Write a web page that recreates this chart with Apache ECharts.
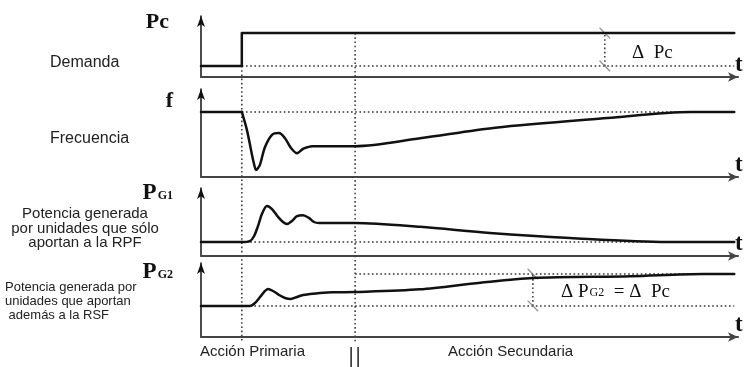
<!DOCTYPE html>
<html><head><meta charset="utf-8">
<script src="https://cdn.jsdelivr.net/npm/echarts@6/dist/echarts.min.js"></script>
<style>html,body{margin:0;padding:0;background:#fff}#c{width:747px;height:367px}</style>
</head><body><div id="c"></div>
<script>
// ---- event times ----
const tStep = 7.6;
const tSecondary = 28.7;
const tEnd = 99.3;

// ---- Panel 1: Demanda (Pc) ----
const demandT = [0, 7.6, 7.6, 99.3];
const demandV = [1.8, 1.8, 7.2, 7.2];
const demandBase = 1.8;
const demandTop = 7.2;
const deltaPcT = 75.2;

// ---- Panel 2: Frecuencia (f) ----
const freqT = [0, 7.6, 8.57, 9.5, 9.87, 10.24, 10.6, 10.99, 11.92, 13.22, 14.53, 15.64, 16.76, 17.88, 18.99, 19.93, 20.67, 28.7, 40.8, 54.8, 75.7, 91.1, 99.3];
const freqV = [7.4, 7.4, 5.3, 2.5, 1.5, 0.8, 1.0, 1.4, 3.4, 4.8, 5.0, 4.4, 3.3, 2.7, 3.2, 3.4, 3.5, 3.5, 4.4, 5.6, 6.7, 7.4, 7.4];
const freqNominal = 7.4;

// ---- Panel 3: PG1 ----
const pg1T = [0, 7.6, 9.12, 9.87, 10.61, 11.36, 12.29, 13.22, 14.34, 15.27, 16.01, 16.95, 17.88, 19.0, 20.1, 21.04, 21.97, 28.7, 40.8, 53.8, 68.7, 86.8, 99.3];
const pg1V = [2.06, 2.06, 2.2, 2.9, 4.4, 6.2, 7.35, 6.9, 5.75, 5.0, 4.7, 5.15, 5.85, 6.0, 5.6, 5.0, 4.85, 4.85, 4.3, 3.4, 2.65, 2.06, 2.06];
const pg1Base = 2.06;

// ---- Panel 4: PG2 ----
const pg2T = [0, 7.6, 9.12, 10.06, 10.99, 11.73, 12.48, 13.41, 14.53, 15.64, 16.76, 17.88, 18.99, 20.3, 22.16, 24.58, 28.7, 40.8, 52.0, 61.8, 80.0, 93.5, 99.3];
const pg2V = [4.2, 4.2, 4.2, 4.6, 5.4, 6.08, 6.5, 6.22, 5.68, 5.27, 5.14, 5.41, 5.68, 5.81, 5.95, 6.05, 6.08, 6.45, 7.34, 7.97, 8.2, 8.5, 8.5];
const pg2Base = 4.2;
const pg2Final = 8.5;
const deltaPg2T = 61.8;

// ---- texts ----
const panelSymbols = ['Pc', 'f', '{p|P}{s|G1}', '{p|P}{s|G2}'];
const panelNames = ['Demanda', 'Frecuencia', 'Potencia generada\npor unidades que sólo\naportan a la RPF', 'Potencia generada por\nunidades que aportan\n además a la RSF'];
const phaseLabels = ['Acción Primaria', 'Acción Secundaria'];
const deltaLabels = ['Δ  Pc', '{b|Δ P}{s|G2}{b|  = Δ  Pc}'];

const zip = (a, b) => a.map((x, i) => [x, b[i]]);
const grids = [
  {left: 201, top: 16, width: 537, height: 61},
  {left: 201, top: 89, width: 537, height: 88},
  {left: 201, top: 188, width: 537, height: 68},
  {left: 201, top: 263, width: 537, height: 74}
];
const INK = '#111';
const DOT = [1.6, 2.6];

const xAxes = grids.map((g, i) => ({
  gridIndex: i, type: 'value', min: 0, max: 100,
  axisLine: {show: true, symbol: ['none', 'arrow'], symbolSize: [7, 10], lineStyle: {color: '#444', width: 2}},
  axisTick: {show: false}, axisLabel: {show: false}, splitLine: {show: false},
  name: 't', nameLocation: 'end', nameGap: -3,
  nameTextStyle: {fontFamily: 'Liberation Serif', fontWeight: 'bold', fontSize: 23, color: INK, verticalAlign: 'bottom', padding: [0, 0, 0, 0]}
}));
const yAxes = grids.map((g, i) => ({
  gridIndex: i, type: 'value', min: 0, max: 10,
  axisLine: {show: true, onZero: false, symbol: ['none', 'arrow'], symbolSize: [6, 11], lineStyle: {color: INK, width: 1.5}},
  axisTick: {show: false}, axisLabel: {show: false}, splitLine: {show: false}
}));

function splitAt(T, V, t0) {
  const k = T.indexOf(t0);
  return [zip(T.slice(0, k + 1), V.slice(0, k + 1)), zip(T.slice(k), V.slice(k))];
}
function mainLine(i, data, smooth) {
  return {type: 'line', xAxisIndex: i, yAxisIndex: i, data, smooth, showSymbol: false, silent: true, z: 5,
    lineStyle: {color: INK, width: 2.5, join: 'round', cap: 'round'}};
}
function dotted(i, data) {
  return {type: 'line', xAxisIndex: i, yAxisIndex: i, data, showSymbol: false, silent: true, z: 2,
    lineStyle: {color: '#333', width: 1.5, type: DOT}};
}
function ticks(i, data) {
  return {type: 'scatter', xAxisIndex: i, yAxisIndex: i, data, symbol: 'rect', symbolSize: [1.3, 15], symbolRotate: 45,
    itemStyle: {color: '#777'}, silent: true, z: 3};
}

const series = [];
// panel 1
series.push(mainLine(0, zip(demandT, demandV), false));
series.push(dotted(0, [[tStep, demandBase], [tEnd, demandBase]]));
series.push(dotted(0, [[deltaPcT, demandBase], [deltaPcT, demandTop]]));
series.push(ticks(0, [[deltaPcT, demandTop], [deltaPcT, demandBase]]));
// panel 2
const f = splitAt(freqT, freqV, tStep);
series.push(mainLine(1, f[0], false));
series.push(mainLine(1, f[1], 0.3));
series.push(dotted(1, [[tStep, freqNominal], [tEnd, freqNominal]]));
// panel 3
const p1 = splitAt(pg1T, pg1V, tStep);
series.push(mainLine(2, p1[0], false));
series.push(mainLine(2, p1[1], 0.3));
series.push(dotted(2, [[tStep, pg1Base], [tEnd, pg1Base]]));
// panel 4
const p2 = splitAt(pg2T, pg2V, tStep);
series.push(mainLine(3, p2[0], false));
series.push(mainLine(3, p2[1], 0.3));
series.push(dotted(3, [[tStep, pg2Base], [tEnd, pg2Base]]));
series.push(dotted(3, [[tSecondary, pg2Final], [tEnd, pg2Final]]));
series.push(dotted(3, [[deltaPg2T, pg2Base], [deltaPg2T, pg2Final]]));
series.push(ticks(3, [[deltaPg2T, pg2Final], [deltaPg2T, pg2Base]]));

const chart = echarts.init(document.getElementById('c'), null, {renderer: 'canvas'});
chart.setOption({animation: false, backgroundColor: '#fff', grid: grids, xAxis: xAxes, yAxis: yAxes, series});

const px = (g, pt) => chart.convertToPixel({gridIndex: g}, pt);
const serifBold = '"Liberation Serif", "DejaVu Serif", serif';
const sans = '"Liberation Sans", Arial, sans-serif';

const aStep0 = px(0, [tStep, demandBase]);
const aStep1 = px(3, [tStep, 0]);
const aSec0 = px(0, [tSecondary, demandTop]);
const aSec1 = px(3, [tSecondary, 0]);
const bottomY = aStep1[1] + 6;
const dashStyle = {stroke: '#333', lineWidth: 1.5, lineDash: DOT};

const richSym = {
  p: {fontFamily: serifBold, fontWeight: 'bold', fontSize: 23, color: INK, verticalAlign: 'bottom'},
  s: {fontFamily: serifBold, fontWeight: 'bold', fontSize: 12, color: INK, verticalAlign: 'bottom', padding: [0, 0, 3, 1]}
};
const symPos = [[169, 22], [173, 101], [173, 193], [173, 272]];

const graphic = [
  {type: 'line', silent: true, shape: {x1: aStep0[0], y1: aStep0[1], x2: aStep1[0], y2: bottomY}, style: dashStyle},
  {type: 'line', silent: true, shape: {x1: aSec0[0], y1: aSec0[1], x2: aSec1[0], y2: bottomY}, style: dashStyle},
  {type: 'line', silent: true, shape: {x1: aSec1[0] - 4, y1: 347, x2: aSec1[0] - 4, y2: 367}, style: {stroke: '#222', lineWidth: 1.5}},
  {type: 'line', silent: true, shape: {x1: aSec1[0] + 3, y1: 347, x2: aSec1[0] + 3, y2: 367}, style: {stroke: '#222', lineWidth: 1.5}}
];
panelSymbols.forEach((s, i) => {
  graphic.push({type: 'text', silent: true, x: symPos[i][0], y: symPos[i][1],
    style: {text: s, rich: richSym, font: 'bold 22px ' + serifBold, fill: INK, align: 'right', verticalAlign: 'middle'}});
});
graphic.push({type: 'text', silent: true, x: 50, y: 63, style: {text: panelNames[0], font: '16px ' + sans, fill: '#222', align: 'left', verticalAlign: 'middle'}});
graphic.push({type: 'text', silent: true, x: 50, y: 139, style: {text: panelNames[1], font: '16px ' + sans, fill: '#222', align: 'left', verticalAlign: 'middle'}});
graphic.push({type: 'text', silent: true, x: 85, y: 228.5, style: {text: panelNames[2], font: '15px ' + sans, lineHeight: 14.5, fill: '#222', align: 'center', verticalAlign: 'middle'}});
graphic.push({type: 'text', silent: true, x: 5, y: 301, style: {text: panelNames[3], font: '13px ' + sans, lineHeight: 14, fill: '#222', align: 'left', verticalAlign: 'middle'}});
graphic.push({type: 'text', silent: true, x: 200, y: 352, style: {text: phaseLabels[0], font: '15px ' + sans, fill: '#222', align: 'left', verticalAlign: 'middle'}});
graphic.push({type: 'text', silent: true, x: 448, y: 352, style: {text: phaseLabels[1], font: '15px ' + sans, fill: '#222', align: 'left', verticalAlign: 'middle'}});
graphic.push({type: 'text', silent: true, x: 632, y: 53, style: {text: deltaLabels[0], font: '19px ' + serifBold, fill: INK, align: 'left', verticalAlign: 'middle'}});
graphic.push({type: 'text', silent: true, x: 561, y: 292, style: {text: deltaLabels[1], fill: INK, align: 'left', verticalAlign: 'middle',
  rich: {b: {fontFamily: serifBold, fontSize: 19, color: INK, verticalAlign: 'bottom'}, s: {fontFamily: serifBold, fontSize: 12, color: INK, verticalAlign: 'bottom', padding: [0, 0, 3, 1]}}}});

chart.setOption({graphic});
</script></body></html>
